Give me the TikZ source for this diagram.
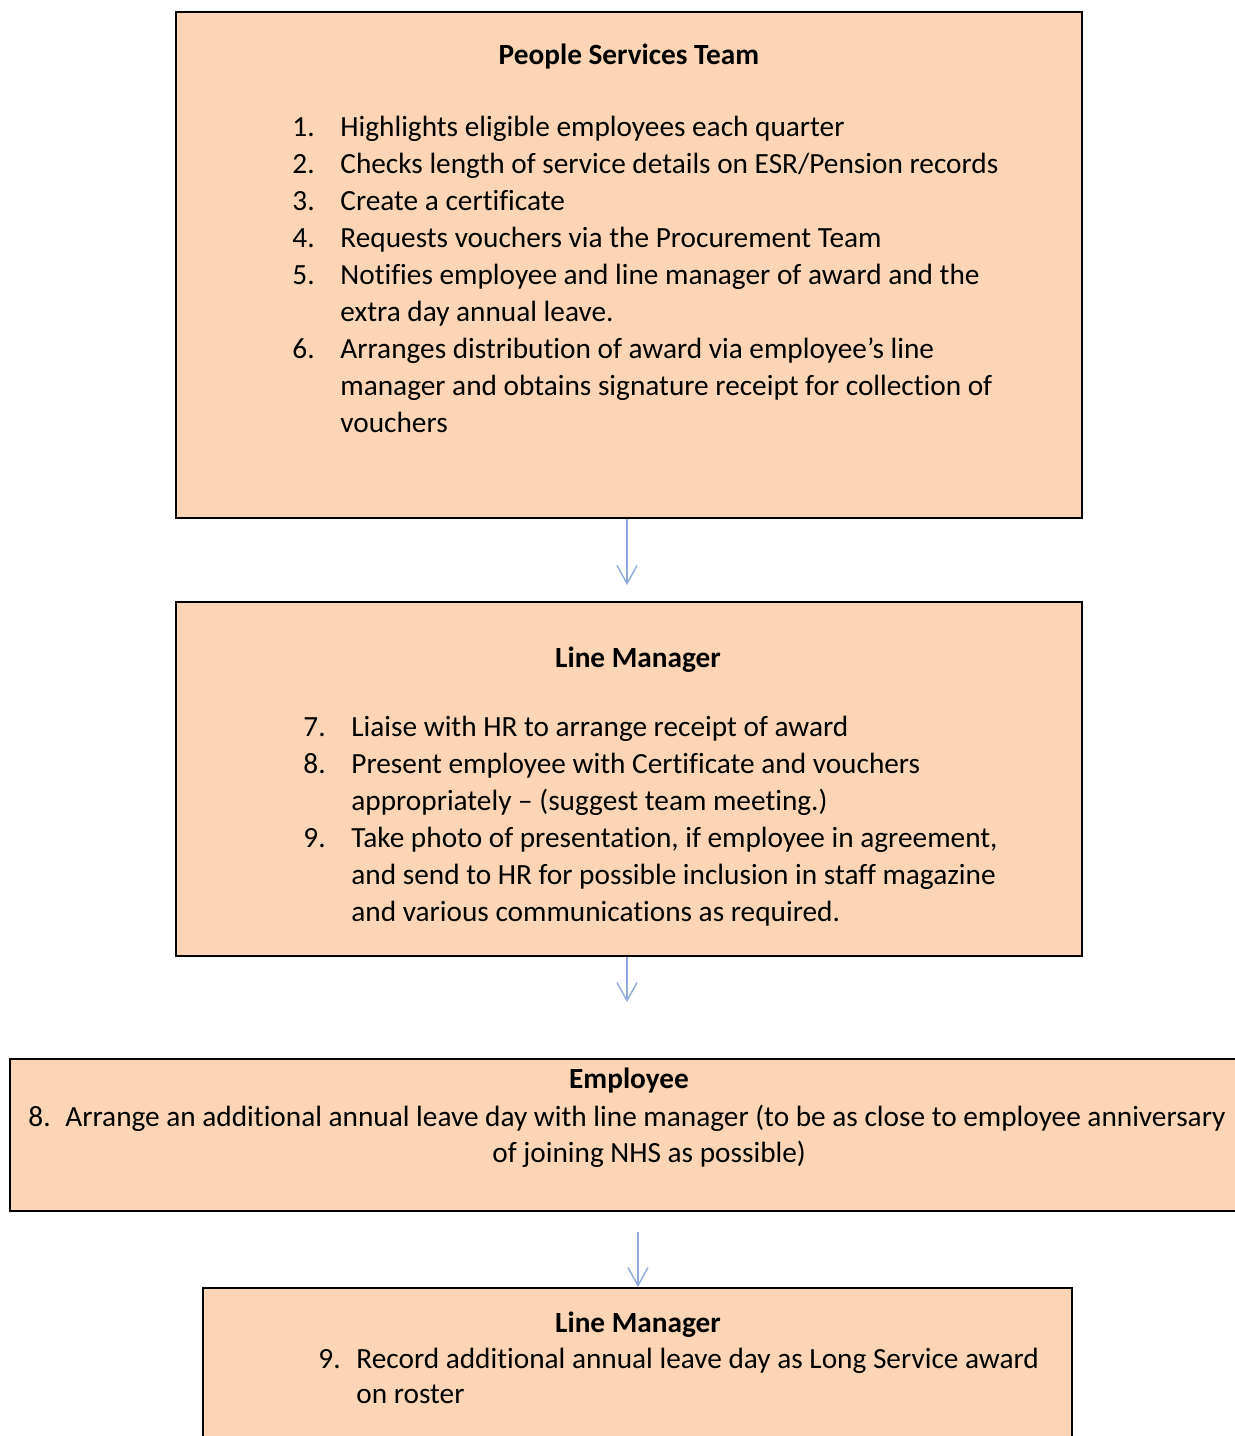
\documentclass[tikz,border=0pt]{standalone}
\usepackage{fontspec}
\setmainfont{Carlito}[Ligatures=CommonOff]
\usetikzlibrary{positioning,arrows.meta,fit}
\definecolor{peach1}{HTML}{FBD5B5}
\definecolor{blue1}{HTML}{8FAADC}

\begin{document}
\begin{tikzpicture}[
    x=0.5pt, y=-0.5pt,
    >={Straight Barb[length=9pt, width=10pt]},
    box/.style={draw=black, line width=1pt, fill=peach1, inner sep=0pt},
    ttl/.style={anchor=base, inner sep=0pt,
                font=\fontsize{14.65}{18.5}\selectfont\bfseries},
    num/.style={anchor=base west, inner sep=0pt,
                font=\fontsize{14.65}{18.5}\selectfont},
    itm/.style={anchor=base west, inner sep=0pt, text width=400pt,
                font=\fontsize{14.65}{18.5}\selectfont,
                execute at begin node={\spaceskip=0pt\xspaceskip=0pt\relax}},
    flow/.style={->, blue1, line width=0.7pt},
]
\useasboundingbox (0,0) rectangle (1235,1436);
\clip (0,0) rectangle (1235,1436);

% Boxes
\node[box, fit={(176,12) (1082,518)}] (pst) {};
\node[box, fit={(176,602) (1082,956)}] (lm1) {};
\node[box, fit={(10,1059) (1250,1211)}] (emp) {};
\node[box, fit={(203,1288) (1072,1470)}] (lm2) {};

% People Services Team
\node[ttl] (pstt) at (629,64) {People Services Team};
\node[num] (n1) at (292,136) {1.};
\node[itm] (i1) at (340,136) {Highlights eligible employees each quarter};
\node[num] (n2) at (292,173) {2.};
\node[itm] (i2) at (340,173) {Checks length of service details on ESR/Pension records};
\node[num] (n3) at (292,210) {3.};
\node[itm] (i3) at (340,210) {Create a certificate};
\node[num] (n4) at (292,247) {4.};
\node[itm] (i4) at (340,247) {Requests vouchers via the Procurement Team};
\node[num] (n5) at (292,284) {5.};
\node[itm] (i5) at (340,284) {Notifies employee and line manager of award and the\\
    extra day annual leave.};
\node[num] (n6) at (292,358) {6.};
\node[itm] (i6) at (340,358) {Arranges distribution of award via employee’s line\\
    manager and obtains signature receipt for collection of\\
    vouchers};

% Line Manager
\node[ttl] (lm1t) at (638,667) {Line Manager};
\node[num] (n7) at (303,736) {7.};
\node[itm] (i7) at (351,736) {Liaise with HR to arrange receipt of award};
\node[num] (n8) at (303,773) {8.};
\node[itm] (i8) at (351,773) {Present employee with Certificate and vouchers\\
    appropriately – (suggest team meeting.)};
\node[num] (n9) at (303,847) {9.};
\node[itm] (i9) at (351,847) {Take photo of presentation, if employee in agreement,\\
    and send to HR for possible inclusion in staff magazine\\
    and various communications as required.};

% Employee
\node[ttl] (empt) at (629,1088) {Employee};
\node[num] (n10) at (28,1126) {8.};
\node[num] (i10) at (65,1126) {Arrange an additional annual leave day with line manager (to be as close to employee anniversary};
\node[num] (i10b) at (492,1162) {of joining NHS as possible)};

% Line Manager (roster)
\node[ttl] (lm2t) at (638,1332) {Line Manager};
\node[num] (n11) at (318,1368) {9.};
\node[itm, font=\fontsize{14.65}{17.5}\selectfont] (i11) at (356,1368)
    {Record additional annual leave day as Long Service award\\on roster};

% Arrows
\coordinate (a1) at (627,585);
\coordinate (a2) at (627,1002);
\coordinate (a3) at (638,1232);
\draw[flow] (pst.south -| a1) -- (a1);
\draw[flow] (lm1.south -| a2) -- (a2);
\draw[flow] (a3) -- (a3 |- lm2.north);
\end{tikzpicture}
\end{document}
